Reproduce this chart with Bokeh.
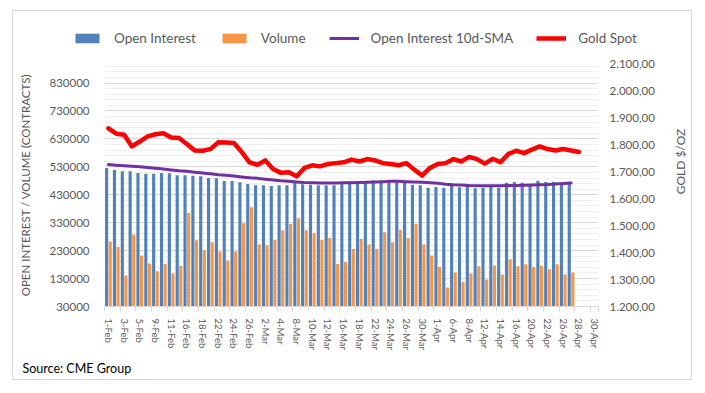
import math
from bokeh.plotting import figure
from bokeh.layouts import column, row
from bokeh.models import (ColumnDataSource, Range1d, LinearAxis, FixedTicker, Legend,
                          LegendItem, Title, Label, InlineStyleSheet)
from bokeh.transform import dodge
from bokeh.embed import file_html
from bokeh.resources import INLINE

# ---------------- data ----------------
dates = ["1-Feb", "2-Feb", "3-Feb", "4-Feb", "5-Feb", "8-Feb", "9-Feb", "10-Feb", "11-Feb", "12-Feb",
         "16-Feb", "17-Feb", "18-Feb", "19-Feb", "22-Feb", "23-Feb", "24-Feb", "25-Feb", "26-Feb",
         "1-Mar", "2-Mar", "3-Mar", "4-Mar", "5-Mar", "8-Mar", "9-Mar", "10-Mar", "11-Mar", "12-Mar",
         "15-Mar", "16-Mar", "17-Mar", "18-Mar", "19-Mar", "22-Mar", "23-Mar", "24-Mar", "25-Mar",
         "26-Mar", "29-Mar", "30-Mar", "31-Mar", "1-Apr", "5-Apr", "6-Apr", "7-Apr", "8-Apr", "9-Apr",
         "12-Apr", "13-Apr", "14-Apr", "15-Apr", "16-Apr", "19-Apr", "20-Apr", "21-Apr", "22-Apr",
         "23-Apr", "26-Apr", "27-Apr", "28-Apr", "29-Apr", "30-Apr"]

open_interest = [526000, 519000, 514000, 514000, 508000, 505000, 505000, 508000, 507000, 500000,
                 500000, 498000, 496000, 490000, 489000, 479000, 479000, 475000, 469000,
                 464000, 464000, 461000, 464000, 464000, 478000, 468000, 466000, 464000, 464000,
                 464000, 476000, 478000, 472000, 478000, 481000, 482000, 475000, 475000,
                 472000, 466000, 464000, 455000, 458000, 455000, 461000, 457000, 461000, 453000,
                 455000, 458000, 455000, 473000, 476000, 473000, 469000, 480000, 476000,
                 476000, 473000, 473000]

volume = [263000, 243000, 141000, 288000, 213000, 184000, 156000, 182000, 148000, 175000,
          365000, 267000, 232000, 260000, 227000, 195000, 227000, 328000, 385000,
          252000, 249000, 268000, 303000, 325000, 346000, 303000, 292000, 268000, 275000,
          182000, 189000, 236000, 272000, 252000, 236000, 296000, 260000, 304000,
          275000, 325000, 252000, 213000, 171000, 98000, 152000, 118000, 148000, 174000,
          127000, 177000, 145000, 199000, 174000, 181000, 171000, 175000, 163000,
          181000, 145000, 152000]

oi_sma10 = [538000, 536000, 534000, 532000, 530000, 528000, 525000, 522000, 519000, 516000,
            514000, 511000, 508000, 505000, 502000, 500000, 497000, 494000, 491000,
            489000, 486000, 483000, 480000, 478000, 476000, 474000, 473000, 472000, 472000,
            472000, 473000, 473000, 474000, 475000, 476000, 477000, 478000, 478000,
            477000, 476000, 475000, 473000, 471000, 468000, 466000, 465000, 463000, 462000,
            462000, 462000, 462000, 463000, 463000, 464000, 465000, 466000, 467000,
            469000, 470000, 472000]

gold_spot = [1860, 1840, 1836, 1793, 1811, 1830, 1838, 1842, 1826, 1824,
             1802, 1778, 1777, 1783, 1808, 1807, 1806, 1772, 1734,
             1725, 1741, 1709, 1695, 1697, 1682, 1713, 1723, 1719, 1728,
             1731, 1734, 1744, 1737, 1746, 1741, 1731, 1728, 1723,
             1731, 1707, 1685, 1713, 1728, 1731, 1746, 1737, 1754, 1746,
             1729, 1747, 1734, 1765, 1777, 1768, 1781, 1793, 1783,
             1778, 1783, 1778, 1772]

left_ticks = [30000, 130000, 230000, 330000, 430000, 530000, 630000, 730000, 830000]
left_labels = ["30000", "130000", "230000", "330000", "430000", "530000", "630000",
               "730000", "830000"]
right_ticks = [1200, 1300, 1400, 1500, 1600, 1700, 1800, 1900, 2000, 2100]
right_labels = ["1.200,00", "1.300,00", "1.400,00", "1.500,00", "1.600,00",
                "1.700,00", "1.800,00", "1.900,00", "2.000,00", "2.100,00"]
series_names = ["Open Interest", "Volume", "Open Interest 10d-SMA", "Gold Spot"]

# ---------------- styles ----------------
BLUE = "#4F81BD"
ORANGE = "#F79646"
PURPLE = "#7030A0"
RED = "#FF0000"
GREY_TXT = "#595959"
FONT = "Lato"


def no_align(fig):
    try:
        fig.frame_align = False
    except Exception:
        pass


n_cat = len(dates)
bars = ColumnDataSource(dict(idx=list(range(len(open_interest))), oi=open_interest, vol=volume))
sma = ColumnDataSource(dict(idx=list(range(len(oi_sma10))), sma=oi_sma10))
gold = ColumnDataSource(dict(idx=list(range(len(gold_spot))), gold=gold_spot))

p = figure(width=665, height=326, output_backend="svg", toolbar_location=None,
           x_range=Range1d(-0.5, n_cat - 0.5), y_range=Range1d(30000, 900000),
           min_border_left=104, min_border_right=67, min_border_top=8, min_border_bottom=74)
no_align(p)
p.outline_line_color = None
p.background_fill_color = "white"
p.border_fill_color = "white"

p.extra_y_ranges = {"gold": Range1d(1200, 2100)}

p.vbar(x=dodge("idx", -0.23, range=p.x_range), top="oi", bottom=0, width=0.4,
       source=bars, fill_color=BLUE, line_color=None)
p.vbar(x=dodge("idx", 0.23, range=p.x_range), top="vol", bottom=0, width=0.4,
       source=bars, fill_color=ORANGE, line_color=None)
p.line(x="idx", y="sma", source=sma, line_color=PURPLE, line_width=3,
       line_join="round", line_cap="round")
p.line(x="idx", y="gold", source=gold, y_range_name="gold", line_color=RED,
       line_width=4.5, line_join="round", line_cap="round")

# grid
minor = [v for v in range(30000, 900001, 20000) if v not in left_ticks]
p.xgrid.visible = False
p.ygrid.ticker = FixedTicker(ticks=left_ticks, minor_ticks=minor)
p.ygrid.grid_line_color = "#d9d9d9"
p.ygrid.minor_grid_line_color = "#efefef"

# left axis
ya = p.yaxis[0]
ya.ticker = FixedTicker(ticks=left_ticks, minor_ticks=minor)
ya.major_label_overrides = dict(zip(left_ticks, left_labels))
ya.axis_line_color = None
ya.major_tick_line_color = None
ya.minor_tick_line_color = None
ya.major_tick_out = 0
ya.major_label_standoff = 11
ya.major_label_text_font = FONT
ya.major_label_text_font_size = "11.5px"
ya.major_label_text_color = GREY_TXT
ya.axis_label = "OPEN INTEREST / VOLUME (CONTRACTS)"
ya.axis_label_text_font = FONT
ya.axis_label_text_font_size = "11.5px"
ya.axis_label_text_font_style = "normal"
ya.axis_label_text_color = GREY_TXT
ya.axis_label_standoff = 14

# right axis (its title is drawn in a narrow strip to the right)
ra = LinearAxis(y_range_name="gold", ticker=FixedTicker(ticks=right_ticks),
                major_label_overrides=dict(zip(right_ticks, right_labels)))
ra.axis_line_color = None
ra.major_tick_line_color = None
ra.minor_tick_line_color = None
ra.major_tick_out = 0
ra.major_label_standoff = 11
ra.major_label_text_font = FONT
ra.major_label_text_font_size = "11.5px"
ra.major_label_text_color = GREY_TXT
p.add_layout(ra, "right")

# bottom axis
xa = p.xaxis[0]
even = list(range(0, n_cat, 2))
xa.ticker = FixedTicker(ticks=even, minor_ticks=[i - 0.5 for i in even] + [n_cat - 0.5])
xa.major_label_overrides = {i: dates[i] for i in even}
xa.major_label_orientation = "vertical"
xa.major_tick_line_color = None
xa.major_tick_out = 0
xa.minor_tick_in = 0
xa.minor_tick_out = 5
xa.minor_tick_line_color = "#d9d9d9"
xa.axis_line_color = "#d9d9d9"
xa.major_label_standoff = 7
xa.major_label_text_font = FONT
xa.major_label_text_font_size = "9.5px"
xa.major_label_text_color = GREY_TXT

# source note
p.add_layout(Title(text="Source: CME Group", align="left", offset=-82, standoff=12,
                   text_font=FONT, text_font_size="12.5px", text_font_style="normal",
                   text_color="#000000"), "below")

# ---------------- right-axis title strip ----------------
rf = figure(width=28, height=326, output_backend="svg", toolbar_location=None,
            x_axis_location=None, y_axis_location=None, min_border_left=0,
            min_border_right=0, min_border_top=8, min_border_bottom=74)
no_align(rf)
rf.outline_line_color = None
rf.xgrid.visible = False
rf.ygrid.visible = False
rf.add_layout(Label(x=15, y=146, x_units="screen", y_units="screen", text="GOLD $/OZ",
                    angle=math.pi / 2, text_align="center", text_baseline="middle",
                    text_font=FONT, text_font_size="12px", text_color=GREY_TXT))

# ---------------- legend strip (separate figure above) ----------------
lf = figure(width=693, height=55, output_backend="svg", toolbar_location=None,
            x_axis_location=None, y_axis_location=None, min_border=0)
no_align(lf)
lf.outline_line_color = None
lf.xgrid.visible = False
lf.ygrid.visible = False
l_oi = lf.vbar(x="idx", top="oi", width=0.4, source=bars, fill_color=BLUE,
               line_color=None, visible=False)
l_vol = lf.vbar(x="idx", top="vol", width=0.4, source=bars, fill_color=ORANGE,
                line_color=None, visible=False)
l_sma = lf.line(x="idx", y="sma", source=sma, line_color=PURPLE, line_width=3, visible=False)
l_gold = lf.line(x="idx", y="gold", source=gold, line_color=RED, line_width=4.5, visible=False)
legend = Legend(items=[LegendItem(label=n, renderers=[r]) for n, r in
                       zip(series_names, [l_oi, l_vol, l_sma, l_gold])],
                orientation="horizontal", location=(72, 9),
                glyph_width=30, glyph_height=12, label_standoff=12, spacing=23,
                padding=3, margin=0, border_line_color=None, background_fill_alpha=0,
                inactive_fill_alpha=0,
                label_text_font=FONT, label_text_font_size="13.5px",
                label_text_color=GREY_TXT)
lf.add_layout(legend, "center")

frame_css = InlineStyleSheet(css="""
:host { position: relative; }
:host::after {
  content: ""; position: absolute; left: 12px; top: 10px; right: 1px; bottom: 1px;
  border: 1px solid #d9d9d9; pointer-events: none;
}
""")
layout = column(lf, row(p, rf, spacing=0), spacing=0, stylesheets=[frame_css])
open("out.html", "w").write(file_html(layout, INLINE))
